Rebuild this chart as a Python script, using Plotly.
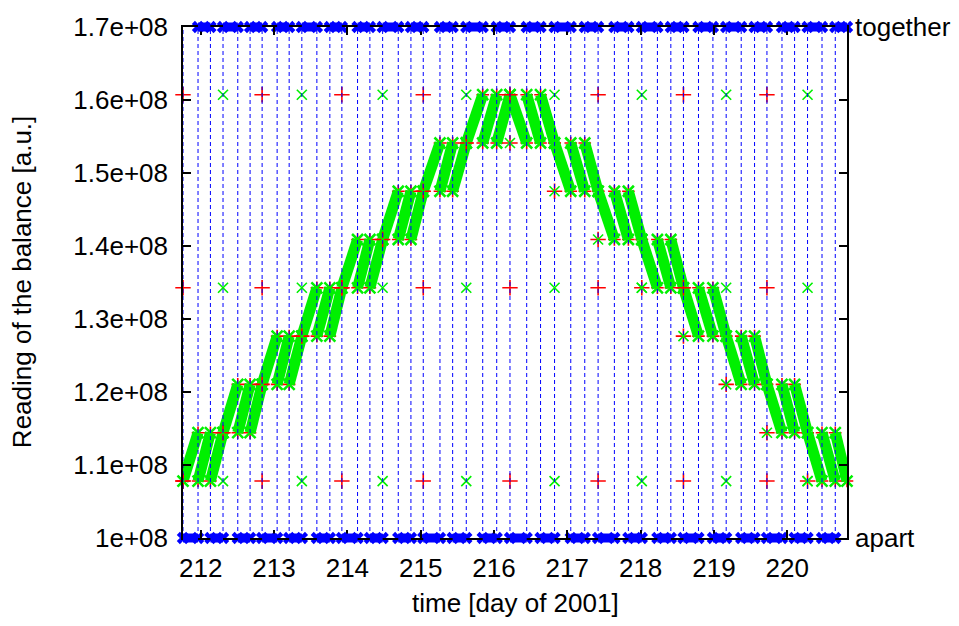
import plotly.graph_objects as go

# Switching times of the source masses (day of 2001); the masses alternate
# between "apart" and "together" at each of these instants.
switch_times = [
    211.758, 211.963, 212.132,
    212.304, 212.505, 212.673,
    212.837, 213.042, 213.206,
    213.379, 213.584, 213.761,
    213.925, 214.139, 214.307,
    214.481, 214.694, 214.867,
    215.035, 215.263, 215.436,
    215.622, 215.846, 216.037,
    216.218, 216.446, 216.635,
    216.826, 217.047, 217.238,
    217.420, 217.642, 217.833,
    218.016, 218.229, 218.412,
    218.584, 218.789, 218.986,
    219.167, 219.372, 219.554,
    219.723, 219.928, 220.100,
    220.277, 220.474, 220.655,
]
run_end = 220.815

mass_state = [
    "apart", "together", "apart", "together", "apart", "together",
    "apart", "together", "apart", "together", "apart", "together",
    "apart", "together", "apart", "together", "apart", "together",
    "apart", "together", "apart", "together", "apart", "together",
    "apart", "together", "apart", "together", "apart", "together",
    "apart", "together", "apart", "together", "apart", "together",
    "apart", "together", "apart", "together", "apart", "together",
    "apart", "together", "apart", "together", "apart", "together",
]

# Balance reading: one step per three switches, sweeping from the start level
# to the end level during every switching interval.
step_start_level = [
    1.0780e8, 1.1442e8, 1.2104e8, 1.2766e8, 1.3428e8, 1.4089e8, 1.4750e8, 1.5411e8,
    1.6072e8, 1.5411e8, 1.4750e8, 1.4089e8, 1.3428e8, 1.2766e8, 1.2104e8, 1.1442e8,
]
step_end_level = [
    1.1442e8, 1.2104e8, 1.2766e8, 1.3428e8, 1.4089e8, 1.4750e8, 1.5411e8, 1.6072e8,
    1.5411e8, 1.4750e8, 1.4089e8, 1.3428e8, 1.2766e8, 1.2104e8, 1.1442e8, 1.0780e8,
]
sweeps_per_step = 3

# Single readings taken at the start of each step
sample_times = [
    211.758, 212.304, 212.837, 213.379, 213.925, 214.481, 215.035, 215.622,
    216.218, 216.826, 217.420, 218.016, 218.584, 219.167, 219.723, 220.277,
]
sample_lower_level = [
    1.0780e8, 1.1442e8, 1.2104e8, 1.2766e8, 1.3428e8, 1.4089e8, 1.4750e8, 1.5411e8,
    1.5411e8, 1.4750e8, 1.4089e8, 1.3428e8, 1.2766e8, 1.2104e8, 1.1442e8, 1.0780e8,
]
reference_levels = [1.0780e8, 1.3428e8, 1.6072e8]

y_ticks = [1.0e8, 1.1e8, 1.2e8, 1.3e8, 1.4e8, 1.5e8, 1.6e8, 1.7e8]
y_tick_text = ["1e+08", "1.1e+08", "1.2e+08", "1.3e+08", "1.4e+08", "1.5e+08", "1.6e+08", "1.7e+08"]
x_ticks = [212, 213, 214, 215, 216, 217, 218, 219, 220]
y_min, y_max = 1.0e8, 1.7e8

RED = "#ff0000"
GREEN = "#00f000"
BLUE = "#0000ff"
FONT = "Liberation Sans, Arial, sans-serif"


def interval_end(i):
    return switch_times[i + 1] if i + 1 < len(switch_times) else run_end


# ---- sweep segments ----
sweep_x, sweep_y = [], []
for i, t0 in enumerate(switch_times):
    k = i // sweeps_per_step
    sweep_x += [t0, interval_end(i), None]
    sweep_y += [step_start_level[k], step_end_level[k], None]

fig = go.Figure()

# red readings underneath the green ones
fig.add_trace(go.Scatter(
    x=sweep_x, y=sweep_y, mode="markers", cliponaxis=False,
    marker=dict(symbol="cross-thin", size=9, line=dict(color=RED, width=1.6)),
    hoverinfo="skip", showlegend=False))
fig.add_trace(go.Scatter(
    x=sweep_x, y=sweep_y, mode="lines+markers", cliponaxis=False,
    line=dict(color=GREEN, width=11),
    marker=dict(symbol="x-thin", size=11, line=dict(color=GREEN, width=2.5)),
    hoverinfo="skip", showlegend=False))

# isolated readings at the reference levels (alternating red / green)
rx, ry, gx, gy = [], [], [], []
for k, t in enumerate(sample_times):
    for lev in reference_levels:
        if k % 2 == 0:
            rx.append(t); ry.append(lev)
        else:
            gx.append(t); gy.append(lev)
    rx.append(t); ry.append(sample_lower_level[k])
    gx.append(t); gy.append(sample_lower_level[k])

fig.add_trace(go.Scatter(
    x=rx, y=ry, mode="markers", cliponaxis=False,
    marker=dict(symbol="cross-thin", size=11, line=dict(color=RED, width=1.6)),
    hoverinfo="skip", showlegend=False))
fig.add_trace(go.Scatter(
    x=gx, y=gy, mode="markers", cliponaxis=False,
    marker=dict(symbol="x-thin", size=10, line=dict(color=GREEN, width=1.6)),
    hoverinfo="skip", showlegend=False))

# dashed markers at every switching instant
vx, vy = [], []
for t in switch_times:
    vx += [t, t, None]
    vy += [y_min, y_max, None]
fig.add_trace(go.Scatter(
    x=vx, y=vy, mode="lines",
    line=dict(color=BLUE, width=1, dash="4px,3px"),
    hoverinfo="skip", showlegend=False))

# mass position: bars on the top ("together") and bottom ("apart") edges
bx, by = [], []
shapes = []
for i, t0 in enumerate(switch_times):
    t1 = interval_end(i)
    together = mass_state[i] == "together"
    bx += [t0, t1]
    by += [y_max, y_max] if together else [y_min, y_min]
    shapes.append(dict(
        type="rect", xref="x", yref="y domain", ysizemode="pixel",
        yanchor=1 if together else 0, y0=-4.5, y1=4.5, x0=t0, x1=t1,
        fillcolor=BLUE, line=dict(width=0), layer="above"))

fig.add_trace(go.Scatter(
    x=bx, y=by, mode="markers", cliponaxis=False,
    marker=dict(symbol="x", size=11, color=BLUE, line=dict(width=0)),
    hoverinfo="skip", showlegend=False))

axis_common = dict(
    showline=True, linecolor="black", linewidth=1.5, mirror="ticks",
    ticks="inside", ticklen=8, tickwidth=1.5, tickcolor="black",
    showgrid=False, zeroline=False,
    tickfont=dict(family=FONT, size=26, color="black"),
)

fig.update_layout(
    width=959, height=626,
    margin=dict(l=183, r=112, t=19, b=88),
    paper_bgcolor="white", plot_bgcolor="white",
    shapes=shapes,
    xaxis=dict(range=[211.758, run_end], tickvals=x_ticks,
               ticklabelstandoff=6, **axis_common),
    yaxis=dict(range=[y_min, y_max], tickvals=y_ticks, ticktext=y_tick_text,
               ticklabelstandoff=8, **axis_common),
    annotations=[
        dict(text="time [day of 2001]", xref="paper", yref="paper",
             x=0.5, y=-0.128, xanchor="center", yanchor="middle",
             showarrow=False, font=dict(family=FONT, size=26, color="black")),
        dict(text="Reading of the balance [a.u.]", xref="paper", yref="paper",
             x=-0.243, y=0.5, xanchor="center", yanchor="middle", textangle=-90,
             showarrow=False, font=dict(family=FONT, size=26, color="black")),
        dict(text="together", xref="paper", yref="y", x=1, y=y_max,
             xanchor="left", yanchor="middle", xshift=6,
             showarrow=False, font=dict(family=FONT, size=26, color="black")),
        dict(text="apart", xref="paper", yref="y", x=1, y=y_min,
             xanchor="left", yanchor="middle", xshift=6,
             showarrow=False, font=dict(family=FONT, size=26, color="black")),
    ],
)

fig.write_html("out.html")
